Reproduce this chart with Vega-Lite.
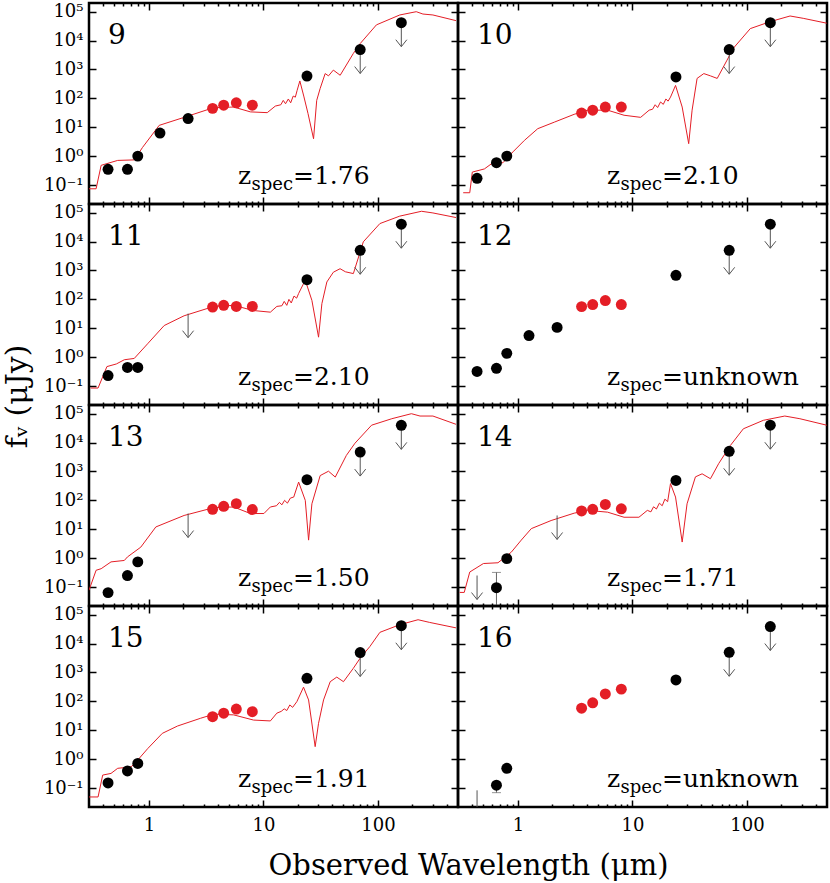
{
  "$schema": "https://vega.github.io/schema/vega-lite/v6.json",
  "background": "white",
  "padding": {"left": 0, "top": 1, "right": 2, "bottom": 0},
  "config": {
    "view": {"stroke": "black", "strokeWidth": 2.5},
    "axis": {"domain": false, "grid": false, "tickColor": "black", "tickWidth": 1.5, "labelColor": "black", "labelFont": "DejaVu Serif", "labelFontSize": 18, "titleFont": "DejaVu Serif", "titleColor": "black", "titleFontWeight": "normal"}
  },
  "data": {"values": [
    {"panel": 9, "kind": "label", "num": "9", "z": "=1.76"},
    {"panel": 10, "kind": "label", "num": "10", "z": "=2.10"},
    {"panel": 11, "kind": "label", "num": "11", "z": "=2.10"},
    {"panel": 12, "kind": "label", "num": "12", "z": "=unknown"},
    {"panel": 13, "kind": "label", "num": "13", "z": "=1.50"},
    {"panel": 14, "kind": "label", "num": "14", "z": "=1.71"},
    {"panel": 15, "kind": "label", "num": "15", "z": "=1.91"},
    {"panel": 16, "kind": "label", "num": "16", "z": "=unknown"},

    {"panel": 9, "kind": "det", "wl": 0.44, "flux": 0.35},
    {"panel": 9, "kind": "det", "wl": 0.65, "flux": 0.35},
    {"panel": 9, "kind": "det", "wl": 0.8, "flux": 1.0},
    {"panel": 9, "kind": "det", "wl": 1.25, "flux": 6.3},
    {"panel": 9, "kind": "det", "wl": 2.2, "flux": 20},
    {"panel": 9, "kind": "irac", "wl": 3.6, "flux": 45},
    {"panel": 9, "kind": "irac", "wl": 4.5, "flux": 58},
    {"panel": 9, "kind": "irac", "wl": 5.8, "flux": 70},
    {"panel": 9, "kind": "irac", "wl": 8.0, "flux": 58},
    {"panel": 9, "kind": "det", "wl": 24, "flux": 590},
    {"panel": 9, "kind": "ul", "wl": 70, "flux": 4900},
    {"panel": 9, "kind": "ul", "wl": 160, "flux": 41700},

    {"panel": 10, "kind": "det", "wl": 0.44, "flux": 0.17},
    {"panel": 10, "kind": "det", "wl": 0.65, "flux": 0.59},
    {"panel": 10, "kind": "det", "wl": 0.8, "flux": 1.0},
    {"panel": 10, "kind": "irac", "wl": 3.6, "flux": 31},
    {"panel": 10, "kind": "irac", "wl": 4.5, "flux": 39},
    {"panel": 10, "kind": "irac", "wl": 5.8, "flux": 50},
    {"panel": 10, "kind": "irac", "wl": 8.0, "flux": 50},
    {"panel": 10, "kind": "det", "wl": 24, "flux": 550},
    {"panel": 10, "kind": "ul", "wl": 70, "flux": 4900},
    {"panel": 10, "kind": "ul", "wl": 160, "flux": 41700},

    {"panel": 11, "kind": "det", "wl": 0.44, "flux": 0.23},
    {"panel": 11, "kind": "det", "wl": 0.65, "flux": 0.44},
    {"panel": 11, "kind": "det", "wl": 0.8, "flux": 0.44},
    {"panel": 11, "kind": "ulx", "wl": 2.2, "flux": 32},
    {"panel": 11, "kind": "irac", "wl": 3.6, "flux": 54},
    {"panel": 11, "kind": "irac", "wl": 4.5, "flux": 62},
    {"panel": 11, "kind": "irac", "wl": 5.8, "flux": 57},
    {"panel": 11, "kind": "irac", "wl": 8.0, "flux": 57},
    {"panel": 11, "kind": "det", "wl": 24, "flux": 480},
    {"panel": 11, "kind": "ul", "wl": 70, "flux": 5000},
    {"panel": 11, "kind": "ul", "wl": 160, "flux": 40000},

    {"panel": 12, "kind": "det", "wl": 0.44, "flux": 0.32},
    {"panel": 12, "kind": "det", "wl": 0.65, "flux": 0.41},
    {"panel": 12, "kind": "det", "wl": 0.8, "flux": 1.35},
    {"panel": 12, "kind": "det", "wl": 1.25, "flux": 5.6},
    {"panel": 12, "kind": "det", "wl": 2.2, "flux": 10.7},
    {"panel": 12, "kind": "irac", "wl": 3.6, "flux": 56},
    {"panel": 12, "kind": "irac", "wl": 4.5, "flux": 66},
    {"panel": 12, "kind": "irac", "wl": 5.8, "flux": 91},
    {"panel": 12, "kind": "irac", "wl": 8.0, "flux": 66},
    {"panel": 12, "kind": "det", "wl": 24, "flux": 680},
    {"panel": 12, "kind": "ul", "wl": 70, "flux": 5000},
    {"panel": 12, "kind": "ul", "wl": 160, "flux": 40000},

    {"panel": 13, "kind": "det", "wl": 0.44, "flux": 0.064},
    {"panel": 13, "kind": "det", "wl": 0.65, "flux": 0.25},
    {"panel": 13, "kind": "det", "wl": 0.8, "flux": 0.74},
    {"panel": 13, "kind": "ulx", "wl": 2.2, "flux": 35},
    {"panel": 13, "kind": "irac", "wl": 3.6, "flux": 49},
    {"panel": 13, "kind": "irac", "wl": 4.5, "flux": 62},
    {"panel": 13, "kind": "irac", "wl": 5.8, "flux": 77},
    {"panel": 13, "kind": "irac", "wl": 8.0, "flux": 48},
    {"panel": 13, "kind": "det", "wl": 24, "flux": 520},
    {"panel": 13, "kind": "ul", "wl": 70, "flux": 4700},
    {"panel": 13, "kind": "ul", "wl": 160, "flux": 39500},

    {"panel": 14, "kind": "ulx", "wl": 0.44, "flux": 0.25},
    {"panel": 14, "kind": "det", "wl": 0.65, "flux": 0.095, "lo": 0.001, "hi": 0.32},
    {"panel": 14, "kind": "det", "wl": 0.8, "flux": 0.96},
    {"panel": 14, "kind": "ulx", "wl": 2.2, "flux": 30},
    {"panel": 14, "kind": "irac", "wl": 3.6, "flux": 43},
    {"panel": 14, "kind": "irac", "wl": 4.5, "flux": 49},
    {"panel": 14, "kind": "irac", "wl": 5.8, "flux": 72},
    {"panel": 14, "kind": "irac", "wl": 8.0, "flux": 51},
    {"panel": 14, "kind": "det", "wl": 24, "flux": 490},
    {"panel": 14, "kind": "ul", "wl": 70, "flux": 5000},
    {"panel": 14, "kind": "ul", "wl": 160, "flux": 40000},

    {"panel": 15, "kind": "det", "wl": 0.44, "flux": 0.15},
    {"panel": 15, "kind": "det", "wl": 0.65, "flux": 0.39},
    {"panel": 15, "kind": "det", "wl": 0.8, "flux": 0.71},
    {"panel": 15, "kind": "irac", "wl": 3.6, "flux": 29.5},
    {"panel": 15, "kind": "irac", "wl": 4.5, "flux": 39},
    {"panel": 15, "kind": "irac", "wl": 5.8, "flux": 54},
    {"panel": 15, "kind": "irac", "wl": 8.0, "flux": 44},
    {"panel": 15, "kind": "det", "wl": 24, "flux": 630},
    {"panel": 15, "kind": "ul", "wl": 70, "flux": 4900},
    {"panel": 15, "kind": "ul", "wl": 160, "flux": 41500},

    {"panel": 16, "kind": "ulx", "wl": 0.44, "flux": 0.083},
    {"panel": 16, "kind": "det", "wl": 0.65, "flux": 0.125, "lo": 0.069, "hi": 0.18},
    {"panel": 16, "kind": "det", "wl": 0.8, "flux": 0.48},
    {"panel": 16, "kind": "irac", "wl": 3.6, "flux": 58},
    {"panel": 16, "kind": "irac", "wl": 4.5, "flux": 89},
    {"panel": 16, "kind": "irac", "wl": 5.8, "flux": 180},
    {"panel": 16, "kind": "irac", "wl": 8.0, "flux": 265},
    {"panel": 16, "kind": "det", "wl": 24, "flux": 550},
    {"panel": 16, "kind": "ul", "wl": 70, "flux": 5000},
    {"panel": 16, "kind": "ul", "wl": 160, "flux": 39000},

    {"panel": 9, "kind": "model", "wl": 0.30, "flux": 0.074},
    {"panel": 9, "kind": "model", "wl": 0.346, "flux": 0.074},
    {"panel": 9, "kind": "model", "wl": 0.383, "flux": 0.48},
    {"panel": 9, "kind": "model", "wl": 0.534, "flux": 0.71},
    {"panel": 9, "kind": "model", "wl": 0.745, "flux": 0.74},
    {"panel": 9, "kind": "model", "wl": 0.88, "flux": 2.0},
    {"panel": 9, "kind": "model", "wl": 1.23, "flux": 11.6},
    {"panel": 9, "kind": "model", "wl": 2.03, "flux": 22},
    {"panel": 9, "kind": "model", "wl": 3.7, "flux": 48},
    {"panel": 9, "kind": "model", "wl": 5.5, "flux": 50},
    {"panel": 9, "kind": "model", "wl": 7.7, "flux": 34},
    {"panel": 9, "kind": "model", "wl": 10.8, "flux": 32},
    {"panel": 9, "kind": "model", "wl": 12.7, "flux": 54},
    {"panel": 9, "kind": "model", "wl": 14.2, "flux": 60},
    {"panel": 9, "kind": "model", "wl": 14.9, "flux": 85},
    {"panel": 9, "kind": "model", "wl": 15.6, "flux": 65},
    {"panel": 9, "kind": "model", "wl": 16.5, "flux": 95},
    {"panel": 9, "kind": "model", "wl": 17.3, "flux": 70},
    {"panel": 9, "kind": "model", "wl": 18.2, "flux": 120},
    {"panel": 9, "kind": "model", "wl": 19.0, "flux": 110},
    {"panel": 9, "kind": "model", "wl": 19.7, "flux": 190},
    {"panel": 9, "kind": "model", "wl": 20.8, "flux": 400},
    {"panel": 9, "kind": "model", "wl": 22.5, "flux": 120},
    {"panel": 9, "kind": "model", "wl": 24.5, "flux": 30},
    {"panel": 9, "kind": "model", "wl": 27.4, "flux": 4.0},
    {"panel": 9, "kind": "model", "wl": 29.2, "flux": 85},
    {"panel": 9, "kind": "model", "wl": 31.3, "flux": 220},
    {"panel": 9, "kind": "model", "wl": 34.6, "flux": 720},
    {"panel": 9, "kind": "model", "wl": 37, "flux": 600},
    {"panel": 9, "kind": "model", "wl": 40.8, "flux": 950},
    {"panel": 9, "kind": "model", "wl": 46.8, "flux": 630},
    {"panel": 9, "kind": "model", "wl": 61, "flux": 3600},
    {"panel": 9, "kind": "model", "wl": 70, "flux": 7900},
    {"panel": 9, "kind": "model", "wl": 97, "flux": 35000},
    {"panel": 9, "kind": "model", "wl": 155, "flux": 77000},
    {"panel": 9, "kind": "model", "wl": 216, "flux": 100000},
    {"panel": 9, "kind": "model", "wl": 247, "flux": 83000},
    {"panel": 9, "kind": "model", "wl": 302, "flux": 77000},
    {"panel": 9, "kind": "model", "wl": 480, "flux": 49000},

    {"panel": 10, "kind": "model", "wl": 0.333, "flux": 0.054},
    {"panel": 10, "kind": "model", "wl": 0.38, "flux": 0.054},
    {"panel": 10, "kind": "model", "wl": 0.40, "flux": 0.28},
    {"panel": 10, "kind": "model", "wl": 0.51, "flux": 0.36},
    {"panel": 10, "kind": "model", "wl": 0.59, "flux": 0.55},
    {"panel": 10, "kind": "model", "wl": 0.74, "flux": 0.59},
    {"panel": 10, "kind": "model", "wl": 0.905, "flux": 1.4},
    {"panel": 10, "kind": "model", "wl": 1.14, "flux": 3.5},
    {"panel": 10, "kind": "model", "wl": 1.49, "flux": 8.9},
    {"panel": 10, "kind": "model", "wl": 2.08, "flux": 15},
    {"panel": 10, "kind": "model", "wl": 3.1, "flux": 28},
    {"panel": 10, "kind": "model", "wl": 4.06, "flux": 39},
    {"panel": 10, "kind": "model", "wl": 6.07, "flux": 39},
    {"panel": 10, "kind": "model", "wl": 8.45, "flux": 26},
    {"panel": 10, "kind": "model", "wl": 11.8, "flux": 22},
    {"panel": 10, "kind": "model", "wl": 14, "flux": 39},
    {"panel": 10, "kind": "model", "wl": 15, "flux": 42},
    {"panel": 10, "kind": "model", "wl": 15.8, "flux": 60},
    {"panel": 10, "kind": "model", "wl": 16.6, "flux": 48},
    {"panel": 10, "kind": "model", "wl": 17.6, "flux": 75},
    {"panel": 10, "kind": "model", "wl": 18.6, "flux": 62},
    {"panel": 10, "kind": "model", "wl": 19.6, "flux": 95},
    {"panel": 10, "kind": "model", "wl": 20.5, "flux": 80},
    {"panel": 10, "kind": "model", "wl": 21.5, "flux": 110},
    {"panel": 10, "kind": "model", "wl": 23.8, "flux": 280},
    {"panel": 10, "kind": "model", "wl": 27.2, "flux": 50},
    {"panel": 10, "kind": "model", "wl": 31, "flux": 2.7},
    {"panel": 10, "kind": "model", "wl": 33.2, "flux": 39},
    {"panel": 10, "kind": "model", "wl": 36.7, "flux": 490},
    {"panel": 10, "kind": "model", "wl": 42, "flux": 720},
    {"panel": 10, "kind": "model", "wl": 48, "flux": 600},
    {"panel": 10, "kind": "model", "wl": 55, "flux": 490},
    {"panel": 10, "kind": "model", "wl": 67, "flux": 2100},
    {"panel": 10, "kind": "model", "wl": 76, "flux": 5400},
    {"panel": 10, "kind": "model", "wl": 107, "flux": 26000},
    {"panel": 10, "kind": "model", "wl": 159, "flux": 45000},
    {"panel": 10, "kind": "model", "wl": 238, "flux": 71000},
    {"panel": 10, "kind": "model", "wl": 310, "flux": 59000},
    {"panel": 10, "kind": "model", "wl": 497, "flux": 40000},

    {"panel": 11, "kind": "model", "wl": 0.31, "flux": 0.085},
    {"panel": 11, "kind": "model", "wl": 0.36, "flux": 0.085},
    {"panel": 11, "kind": "model", "wl": 0.43, "flux": 0.47},
    {"panel": 11, "kind": "model", "wl": 0.52, "flux": 0.58},
    {"panel": 11, "kind": "model", "wl": 0.61, "flux": 0.81},
    {"panel": 11, "kind": "model", "wl": 0.745, "flux": 0.9},
    {"panel": 11, "kind": "model", "wl": 0.975, "flux": 2.9},
    {"panel": 11, "kind": "model", "wl": 1.36, "flux": 12.4},
    {"panel": 11, "kind": "model", "wl": 2.03, "flux": 27},
    {"panel": 11, "kind": "model", "wl": 3.7, "flux": 57},
    {"panel": 11, "kind": "model", "wl": 5.5, "flux": 62},
    {"panel": 11, "kind": "model", "wl": 8.2, "flux": 41},
    {"panel": 11, "kind": "model", "wl": 11.5, "flux": 36},
    {"panel": 11, "kind": "model", "wl": 13.1, "flux": 57},
    {"panel": 11, "kind": "model", "wl": 14.5, "flux": 60},
    {"panel": 11, "kind": "model", "wl": 15.2, "flux": 85},
    {"panel": 11, "kind": "model", "wl": 16, "flux": 62},
    {"panel": 11, "kind": "model", "wl": 16.7, "flux": 100},
    {"panel": 11, "kind": "model", "wl": 17.5, "flux": 75},
    {"panel": 11, "kind": "model", "wl": 18.5, "flux": 130},
    {"panel": 11, "kind": "model", "wl": 19.5, "flux": 110},
    {"panel": 11, "kind": "model", "wl": 20.3, "flux": 160},
    {"panel": 11, "kind": "model", "wl": 23.2, "flux": 460},
    {"panel": 11, "kind": "model", "wl": 26.5, "flux": 92},
    {"panel": 11, "kind": "model", "wl": 30.3, "flux": 4.9},
    {"panel": 11, "kind": "model", "wl": 32.4, "flux": 71},
    {"panel": 11, "kind": "model", "wl": 35.8, "flux": 400},
    {"panel": 11, "kind": "model", "wl": 40.8, "flux": 870},
    {"panel": 11, "kind": "model", "wl": 46.7, "flux": 1150},
    {"panel": 11, "kind": "model", "wl": 52, "flux": 900},
    {"panel": 11, "kind": "model", "wl": 61, "flux": 780},
    {"panel": 11, "kind": "model", "wl": 74.5, "flux": 9800},
    {"panel": 11, "kind": "model", "wl": 104, "flux": 42000},
    {"panel": 11, "kind": "model", "wl": 155, "flux": 76000},
    {"panel": 11, "kind": "model", "wl": 240, "flux": 112000},
    {"panel": 11, "kind": "model", "wl": 302, "flux": 98000},
    {"panel": 11, "kind": "model", "wl": 480, "flux": 68000},

    {"panel": 13, "kind": "model", "wl": 0.30, "flux": 0.077},
    {"panel": 13, "kind": "model", "wl": 0.346, "flux": 0.38},
    {"panel": 13, "kind": "model", "wl": 0.383, "flux": 0.43},
    {"panel": 13, "kind": "model", "wl": 0.467, "flux": 0.74},
    {"panel": 13, "kind": "model", "wl": 0.61, "flux": 0.83},
    {"panel": 13, "kind": "model", "wl": 0.65, "flux": 1.1},
    {"panel": 13, "kind": "model", "wl": 0.85, "flux": 2.4},
    {"panel": 13, "kind": "model", "wl": 1.15, "flux": 12},
    {"panel": 13, "kind": "model", "wl": 2.03, "flux": 30},
    {"panel": 13, "kind": "model", "wl": 3.7, "flux": 56},
    {"panel": 13, "kind": "model", "wl": 5.5, "flux": 59},
    {"panel": 13, "kind": "model", "wl": 7.7, "flux": 35},
    {"panel": 13, "kind": "model", "wl": 10.1, "flux": 35},
    {"panel": 13, "kind": "model", "wl": 11.5, "flux": 59},
    {"panel": 13, "kind": "model", "wl": 13, "flux": 65},
    {"panel": 13, "kind": "model", "wl": 13.8, "flux": 85},
    {"panel": 13, "kind": "model", "wl": 14.5, "flux": 70},
    {"panel": 13, "kind": "model", "wl": 15.3, "flux": 100},
    {"panel": 13, "kind": "model", "wl": 16.2, "flux": 80},
    {"panel": 13, "kind": "model", "wl": 17.2, "flux": 120},
    {"panel": 13, "kind": "model", "wl": 18.4, "flux": 130},
    {"panel": 13, "kind": "model", "wl": 20.3, "flux": 430},
    {"panel": 13, "kind": "model", "wl": 23.2, "flux": 100},
    {"panel": 13, "kind": "model", "wl": 24.8, "flux": 4.2},
    {"panel": 13, "kind": "model", "wl": 26.5, "flux": 76},
    {"panel": 13, "kind": "model", "wl": 31.3, "flux": 720},
    {"panel": 13, "kind": "model", "wl": 37, "flux": 1020},
    {"panel": 13, "kind": "model", "wl": 42.4, "flux": 640},
    {"panel": 13, "kind": "model", "wl": 53, "flux": 3600},
    {"panel": 13, "kind": "model", "wl": 63, "flux": 9500},
    {"panel": 13, "kind": "model", "wl": 88, "flux": 40000},
    {"panel": 13, "kind": "model", "wl": 132, "flux": 67000},
    {"panel": 13, "kind": "model", "wl": 196, "flux": 100000},
    {"panel": 13, "kind": "model", "wl": 233, "flux": 83000},
    {"panel": 13, "kind": "model", "wl": 302, "flux": 83000},
    {"panel": 13, "kind": "model", "wl": 480, "flux": 43000},

    {"panel": 14, "kind": "model", "wl": 0.31, "flux": 0.065},
    {"panel": 14, "kind": "model", "wl": 0.34, "flux": 0.065},
    {"panel": 14, "kind": "model", "wl": 0.38, "flux": 0.33},
    {"panel": 14, "kind": "model", "wl": 0.50, "flux": 0.65},
    {"panel": 14, "kind": "model", "wl": 0.67, "flux": 0.69},
    {"panel": 14, "kind": "model", "wl": 0.875, "flux": 1.6},
    {"panel": 14, "kind": "model", "wl": 1.07, "flux": 4.2},
    {"panel": 14, "kind": "model", "wl": 1.31, "flux": 10.5},
    {"panel": 14, "kind": "model", "wl": 1.95, "flux": 20},
    {"panel": 14, "kind": "model", "wl": 3.1, "flux": 36},
    {"panel": 14, "kind": "model", "wl": 4.06, "flux": 45},
    {"panel": 14, "kind": "model", "wl": 6.07, "flux": 39},
    {"panel": 14, "kind": "model", "wl": 8.45, "flux": 26},
    {"panel": 14, "kind": "model", "wl": 11.4, "flux": 26},
    {"panel": 14, "kind": "model", "wl": 13.5, "flux": 45},
    {"panel": 14, "kind": "model", "wl": 14.5, "flux": 40},
    {"panel": 14, "kind": "model", "wl": 15.3, "flux": 60},
    {"panel": 14, "kind": "model", "wl": 16.2, "flux": 50},
    {"panel": 14, "kind": "model", "wl": 17.2, "flux": 80},
    {"panel": 14, "kind": "model", "wl": 18.2, "flux": 65},
    {"panel": 14, "kind": "model", "wl": 19.2, "flux": 110},
    {"panel": 14, "kind": "model", "wl": 20.3, "flux": 90},
    {"panel": 14, "kind": "model", "wl": 21.5, "flux": 380},
    {"panel": 14, "kind": "model", "wl": 23.8, "flux": 130},
    {"panel": 14, "kind": "model", "wl": 27.2, "flux": 3.6},
    {"panel": 14, "kind": "model", "wl": 30, "flux": 76},
    {"panel": 14, "kind": "model", "wl": 35.5, "flux": 650},
    {"panel": 14, "kind": "model", "wl": 40.6, "flux": 830},
    {"panel": 14, "kind": "model", "wl": 48, "flux": 560},
    {"panel": 14, "kind": "model", "wl": 56.6, "flux": 1860},
    {"panel": 14, "kind": "model", "wl": 71.6, "flux": 7900},
    {"panel": 14, "kind": "model", "wl": 93, "flux": 30000},
    {"panel": 14, "kind": "model", "wl": 139, "flux": 59000},
    {"panel": 14, "kind": "model", "wl": 214, "flux": 83000},
    {"panel": 14, "kind": "model", "wl": 290, "flux": 67000},
    {"panel": 14, "kind": "model", "wl": 497, "flux": 40000},

    {"panel": 15, "kind": "model", "wl": 0.30, "flux": 0.049},
    {"panel": 15, "kind": "model", "wl": 0.36, "flux": 0.049},
    {"panel": 15, "kind": "model", "wl": 0.395, "flux": 0.28},
    {"panel": 15, "kind": "model", "wl": 0.467, "flux": 0.32},
    {"panel": 15, "kind": "model", "wl": 0.534, "flux": 0.48},
    {"panel": 15, "kind": "model", "wl": 0.70, "flux": 0.54},
    {"panel": 15, "kind": "model", "wl": 0.8, "flux": 0.93},
    {"panel": 15, "kind": "model", "wl": 0.975, "flux": 2.3},
    {"panel": 15, "kind": "model", "wl": 1.31, "flux": 7.8},
    {"panel": 15, "kind": "model", "wl": 1.78, "flux": 14},
    {"panel": 15, "kind": "model", "wl": 2.83, "flux": 26},
    {"panel": 15, "kind": "model", "wl": 3.7, "flux": 36},
    {"panel": 15, "kind": "model", "wl": 5.5, "flux": 34},
    {"panel": 15, "kind": "model", "wl": 8.2, "flux": 22.5},
    {"panel": 15, "kind": "model", "wl": 11.5, "flux": 21},
    {"panel": 15, "kind": "model", "wl": 13.1, "flux": 39},
    {"panel": 15, "kind": "model", "wl": 14.3, "flux": 45},
    {"panel": 15, "kind": "model", "wl": 15.2, "flux": 55},
    {"panel": 15, "kind": "model", "wl": 16, "flux": 48},
    {"panel": 15, "kind": "model", "wl": 17, "flux": 75},
    {"panel": 15, "kind": "model", "wl": 18, "flux": 62},
    {"panel": 15, "kind": "model", "wl": 19.6, "flux": 98},
    {"panel": 15, "kind": "model", "wl": 22.4, "flux": 310},
    {"panel": 15, "kind": "model", "wl": 24.8, "flux": 112},
    {"panel": 15, "kind": "model", "wl": 28.3, "flux": 2.7},
    {"panel": 15, "kind": "model", "wl": 30.3, "flux": 17.4},
    {"panel": 15, "kind": "model", "wl": 33.5, "flux": 112},
    {"panel": 15, "kind": "model", "wl": 38.3, "flux": 480},
    {"panel": 15, "kind": "model", "wl": 43.7, "flux": 690},
    {"panel": 15, "kind": "model", "wl": 50, "flux": 480},
    {"panel": 15, "kind": "model", "wl": 61, "flux": 1400},
    {"panel": 15, "kind": "model", "wl": 70, "flux": 3150},
    {"panel": 15, "kind": "model", "wl": 85, "flux": 7900},
    {"panel": 15, "kind": "model", "wl": 104, "flux": 24500},
    {"panel": 15, "kind": "model", "wl": 155, "flux": 45000},
    {"panel": 15, "kind": "model", "wl": 224, "flux": 67000},
    {"panel": 15, "kind": "model", "wl": 283, "flux": 54000},
    {"panel": 15, "kind": "model", "wl": 480, "flux": 35000}
  ]},
  "columns": 2,
  "spacing": 0,
  "bounds": "flush",
  "concat": [
    {
      "width": 369, "height": 201,
      "transform": [{"filter": "datum.panel == 9"}],
      "layer": [
        {"transform": [{"filter": "datum.kind == 'model'"}], "mark": {"type": "line", "color": "#e41e26", "strokeWidth": 1, "clip": true},
         "encoding": {
          "x": {"field": "wl", "type": "quantitative", "scale": {"type": "log", "domain": [0.3, 500], "nice": false}, "axis": {"orient": "bottom", "values": [0.4,0.5,0.6,0.7,0.8,0.9,1,2,3,4,5,6,7,8,9,10,20,30,40,50,60,70,80,90,100,200,300,400], "labels": false, "tickSize": {"condition": {"test": "datum.value==1||datum.value==10||datum.value==100", "value": -7}, "value": -3}, "title": null}},
          "y": {"field": "flux", "type": "quantitative", "scale": {"type": "log", "domain": [0.022, 200000], "nice": false}, "axis": {"orient": "left", "values": [0.1,1,10,100,1000,10000,100000], "labels": true, "labelExpr": "'10' + ['⁻¹','⁰','¹','²','³','⁴','⁵'][round(log(datum.value)/LN10)+1]", "labelBaseline": "middle", "labelPadding": 13, "tickSize": -7, "title": null}}
         }},
        {"transform": [{"filter": "datum.kind == 'ul' || datum.kind == 'ulx'"}], "mark": {"type": "point", "shape": "M0,0L0,2M-0.46,1.42L0,2L0.46,1.42", "size": 576, "filled": false, "stroke": "#555555", "strokeWidth": 1, "opacity": 1, "clip": true},
         "encoding": {"x": {"field": "wl", "type": "quantitative", "scale": {"type": "log", "domain": [0.3, 500], "nice": false}, "axis": null}, "y": {"field": "flux", "type": "quantitative", "scale": {"type": "log", "domain": [0.022, 200000], "nice": false}, "axis": null}}},
        {"transform": [{"filter": "datum.kind == 'det' || datum.kind == 'ul'"}], "mark": {"type": "circle", "color": "black", "size": 120, "opacity": 1},
         "encoding": {"x": {"field": "wl", "type": "quantitative", "scale": {"type": "log", "domain": [0.3, 500], "nice": false}, "axis": null}, "y": {"field": "flux", "type": "quantitative", "scale": {"type": "log", "domain": [0.022, 200000], "nice": false}, "axis": null}}},
        {"transform": [{"filter": "datum.kind == 'irac'"}], "mark": {"type": "circle", "color": "#e41e26", "size": 120, "opacity": 1},
         "encoding": {"x": {"field": "wl", "type": "quantitative", "scale": {"type": "log", "domain": [0.3, 500], "nice": false}, "axis": null}, "y": {"field": "flux", "type": "quantitative", "scale": {"type": "log", "domain": [0.022, 200000], "nice": false}, "axis": null}}},
        {"transform": [{"filter": "datum.kind == 'label'"}], "mark": {"type": "text", "align": "left", "baseline": "alphabetic", "fontSize": 28, "color": "black", "font": "DejaVu Serif"},
         "encoding": {"text": {"field": "num"}, "x": {"datum": 0.44, "type": "quantitative", "scale": {"type": "log", "domain": [0.3, 500], "nice": false}, "axis": null}, "y": {"datum": 7600, "type": "quantitative", "scale": {"type": "log", "domain": [0.022, 200000], "nice": false}, "axis": null}}},
        {"transform": [{"filter": "datum.kind == 'label'"}], "mark": {"type": "text", "text": "z", "align": "left", "baseline": "alphabetic", "fontSize": 25, "color": "black", "font": "DejaVu Serif"},
         "encoding": {"x": {"datum": 6.0, "type": "quantitative", "scale": {"type": "log", "domain": [0.3, 500], "nice": false}, "axis": null}, "y": {"datum": 0.105, "type": "quantitative", "scale": {"type": "log", "domain": [0.022, 200000], "nice": false}, "axis": null}}},
        {"transform": [{"filter": "datum.kind == 'label'"}], "mark": {"type": "text", "text": "spec", "align": "left", "baseline": "alphabetic", "fontSize": 18, "dx": 13.5, "dy": 6, "color": "black", "font": "DejaVu Serif"},
         "encoding": {"x": {"datum": 6.0, "type": "quantitative", "scale": {"type": "log", "domain": [0.3, 500], "nice": false}, "axis": null}, "y": {"datum": 0.105, "type": "quantitative", "scale": {"type": "log", "domain": [0.022, 200000], "nice": false}, "axis": null}}},
        {"transform": [{"filter": "datum.kind == 'label'"}], "mark": {"type": "text", "align": "left", "baseline": "alphabetic", "fontSize": 25, "dx": 55, "color": "black", "font": "DejaVu Serif"},
         "encoding": {"text": {"field": "z"}, "x": {"datum": 6.0, "type": "quantitative", "scale": {"type": "log", "domain": [0.3, 500], "nice": false}, "axis": null}, "y": {"datum": 0.105, "type": "quantitative", "scale": {"type": "log", "domain": [0.022, 200000], "nice": false}, "axis": null}}},
        {"transform": [{"filter": "datum.kind == 'det'"}], "mark": {"type": "point", "opacity": 0},
         "encoding": {
          "x": {"field": "wl", "type": "quantitative", "scale": {"type": "log", "domain": [0.3, 500], "nice": false}, "axis": {"orient": "top", "values": [0.4,0.5,0.6,0.7,0.8,0.9,1,2,3,4,5,6,7,8,9,10,20,30,40,50,60,70,80,90,100,200,300,400], "labels": false, "tickSize": {"condition": {"test": "datum.value==1||datum.value==10||datum.value==100", "value": -7}, "value": -3}, "title": null}},
          "y": {"field": "flux", "type": "quantitative", "scale": {"type": "log", "domain": [0.022, 200000], "nice": false}, "axis": {"orient": "right", "values": [0.1,1,10,100,1000,10000,100000], "labels": false, "tickSize": -7, "title": null}}
         }}
      ]
    },
    {
      "width": 369, "height": 201,
      "transform": [{"filter": "datum.panel == 10"}],
      "layer": [
        {"transform": [{"filter": "datum.kind == 'model'"}], "mark": {"type": "line", "color": "#e41e26", "strokeWidth": 1, "clip": true},
         "encoding": {
          "x": {"field": "wl", "type": "quantitative", "scale": {"type": "log", "domain": [0.3, 500], "nice": false}, "axis": {"orient": "bottom", "values": [0.4,0.5,0.6,0.7,0.8,0.9,1,2,3,4,5,6,7,8,9,10,20,30,40,50,60,70,80,90,100,200,300,400], "labels": false, "tickSize": {"condition": {"test": "datum.value==1||datum.value==10||datum.value==100", "value": -7}, "value": -3}, "title": null}},
          "y": {"field": "flux", "type": "quantitative", "scale": {"type": "log", "domain": [0.022, 200000], "nice": false}, "axis": {"orient": "left", "values": [0.1,1,10,100,1000,10000,100000], "labels": false, "tickSize": -7, "title": null}}
         }},
        {"transform": [{"filter": "datum.kind == 'ul' || datum.kind == 'ulx'"}], "mark": {"type": "point", "shape": "M0,0L0,2M-0.46,1.42L0,2L0.46,1.42", "size": 576, "filled": false, "stroke": "#555555", "strokeWidth": 1, "opacity": 1, "clip": true},
         "encoding": {"x": {"field": "wl", "type": "quantitative", "scale": {"type": "log", "domain": [0.3, 500], "nice": false}, "axis": null}, "y": {"field": "flux", "type": "quantitative", "scale": {"type": "log", "domain": [0.022, 200000], "nice": false}, "axis": null}}},
        {"transform": [{"filter": "datum.kind == 'det' || datum.kind == 'ul'"}], "mark": {"type": "circle", "color": "black", "size": 120, "opacity": 1},
         "encoding": {"x": {"field": "wl", "type": "quantitative", "scale": {"type": "log", "domain": [0.3, 500], "nice": false}, "axis": null}, "y": {"field": "flux", "type": "quantitative", "scale": {"type": "log", "domain": [0.022, 200000], "nice": false}, "axis": null}}},
        {"transform": [{"filter": "datum.kind == 'irac'"}], "mark": {"type": "circle", "color": "#e41e26", "size": 120, "opacity": 1},
         "encoding": {"x": {"field": "wl", "type": "quantitative", "scale": {"type": "log", "domain": [0.3, 500], "nice": false}, "axis": null}, "y": {"field": "flux", "type": "quantitative", "scale": {"type": "log", "domain": [0.022, 200000], "nice": false}, "axis": null}}},
        {"transform": [{"filter": "datum.kind == 'label'"}], "mark": {"type": "text", "align": "left", "baseline": "alphabetic", "fontSize": 28, "color": "black", "font": "DejaVu Serif"},
         "encoding": {"text": {"field": "num"}, "x": {"datum": 0.44, "type": "quantitative", "scale": {"type": "log", "domain": [0.3, 500], "nice": false}, "axis": null}, "y": {"datum": 7600, "type": "quantitative", "scale": {"type": "log", "domain": [0.022, 200000], "nice": false}, "axis": null}}},
        {"transform": [{"filter": "datum.kind == 'label'"}], "mark": {"type": "text", "text": "z", "align": "left", "baseline": "alphabetic", "fontSize": 25, "color": "black", "font": "DejaVu Serif"},
         "encoding": {"x": {"datum": 6.0, "type": "quantitative", "scale": {"type": "log", "domain": [0.3, 500], "nice": false}, "axis": null}, "y": {"datum": 0.105, "type": "quantitative", "scale": {"type": "log", "domain": [0.022, 200000], "nice": false}, "axis": null}}},
        {"transform": [{"filter": "datum.kind == 'label'"}], "mark": {"type": "text", "text": "spec", "align": "left", "baseline": "alphabetic", "fontSize": 18, "dx": 13.5, "dy": 6, "color": "black", "font": "DejaVu Serif"},
         "encoding": {"x": {"datum": 6.0, "type": "quantitative", "scale": {"type": "log", "domain": [0.3, 500], "nice": false}, "axis": null}, "y": {"datum": 0.105, "type": "quantitative", "scale": {"type": "log", "domain": [0.022, 200000], "nice": false}, "axis": null}}},
        {"transform": [{"filter": "datum.kind == 'label'"}], "mark": {"type": "text", "align": "left", "baseline": "alphabetic", "fontSize": 25, "dx": 55, "color": "black", "font": "DejaVu Serif"},
         "encoding": {"text": {"field": "z"}, "x": {"datum": 6.0, "type": "quantitative", "scale": {"type": "log", "domain": [0.3, 500], "nice": false}, "axis": null}, "y": {"datum": 0.105, "type": "quantitative", "scale": {"type": "log", "domain": [0.022, 200000], "nice": false}, "axis": null}}},
        {"transform": [{"filter": "datum.kind == 'det'"}], "mark": {"type": "point", "opacity": 0},
         "encoding": {
          "x": {"field": "wl", "type": "quantitative", "scale": {"type": "log", "domain": [0.3, 500], "nice": false}, "axis": {"orient": "top", "values": [0.4,0.5,0.6,0.7,0.8,0.9,1,2,3,4,5,6,7,8,9,10,20,30,40,50,60,70,80,90,100,200,300,400], "labels": false, "tickSize": {"condition": {"test": "datum.value==1||datum.value==10||datum.value==100", "value": -7}, "value": -3}, "title": null}},
          "y": {"field": "flux", "type": "quantitative", "scale": {"type": "log", "domain": [0.022, 200000], "nice": false}, "axis": {"orient": "right", "values": [0.1,1,10,100,1000,10000,100000], "labels": false, "tickSize": -7, "title": null}}
         }}
      ]
    },
    {
      "width": 369, "height": 201,
      "transform": [{"filter": "datum.panel == 11"}],
      "layer": [
        {"transform": [{"filter": "datum.kind == 'model'"}], "mark": {"type": "line", "color": "#e41e26", "strokeWidth": 1, "clip": true},
         "encoding": {
          "x": {"field": "wl", "type": "quantitative", "scale": {"type": "log", "domain": [0.3, 500], "nice": false}, "axis": {"orient": "bottom", "values": [0.4,0.5,0.6,0.7,0.8,0.9,1,2,3,4,5,6,7,8,9,10,20,30,40,50,60,70,80,90,100,200,300,400], "labels": false, "tickSize": {"condition": {"test": "datum.value==1||datum.value==10||datum.value==100", "value": -7}, "value": -3}, "title": null}},
          "y": {"field": "flux", "type": "quantitative", "scale": {"type": "log", "domain": [0.022, 200000], "nice": false}, "axis": {"orient": "left", "values": [0.1,1,10,100,1000,10000,100000], "labels": true, "labelExpr": "'10' + ['⁻¹','⁰','¹','²','³','⁴','⁵'][round(log(datum.value)/LN10)+1]", "labelBaseline": "middle", "labelPadding": 13, "tickSize": -7, "title": "fᵥ (μJy)", "titleFontSize": 30, "titleX": -63, "titleY": 192, "titleAngle": -90, "titleAlign": "center", "titleBaseline": "alphabetic"}}
         }},
        {"transform": [{"filter": "datum.kind == 'ul' || datum.kind == 'ulx'"}], "mark": {"type": "point", "shape": "M0,0L0,2M-0.46,1.42L0,2L0.46,1.42", "size": 576, "filled": false, "stroke": "#555555", "strokeWidth": 1, "opacity": 1, "clip": true},
         "encoding": {"x": {"field": "wl", "type": "quantitative", "scale": {"type": "log", "domain": [0.3, 500], "nice": false}, "axis": null}, "y": {"field": "flux", "type": "quantitative", "scale": {"type": "log", "domain": [0.022, 200000], "nice": false}, "axis": null}}},
        {"transform": [{"filter": "datum.kind == 'det' || datum.kind == 'ul'"}], "mark": {"type": "circle", "color": "black", "size": 120, "opacity": 1},
         "encoding": {"x": {"field": "wl", "type": "quantitative", "scale": {"type": "log", "domain": [0.3, 500], "nice": false}, "axis": null}, "y": {"field": "flux", "type": "quantitative", "scale": {"type": "log", "domain": [0.022, 200000], "nice": false}, "axis": null}}},
        {"transform": [{"filter": "datum.kind == 'irac'"}], "mark": {"type": "circle", "color": "#e41e26", "size": 120, "opacity": 1},
         "encoding": {"x": {"field": "wl", "type": "quantitative", "scale": {"type": "log", "domain": [0.3, 500], "nice": false}, "axis": null}, "y": {"field": "flux", "type": "quantitative", "scale": {"type": "log", "domain": [0.022, 200000], "nice": false}, "axis": null}}},
        {"transform": [{"filter": "datum.kind == 'label'"}], "mark": {"type": "text", "align": "left", "baseline": "alphabetic", "fontSize": 28, "color": "black", "font": "DejaVu Serif"},
         "encoding": {"text": {"field": "num"}, "x": {"datum": 0.44, "type": "quantitative", "scale": {"type": "log", "domain": [0.3, 500], "nice": false}, "axis": null}, "y": {"datum": 7600, "type": "quantitative", "scale": {"type": "log", "domain": [0.022, 200000], "nice": false}, "axis": null}}},
        {"transform": [{"filter": "datum.kind == 'label'"}], "mark": {"type": "text", "text": "z", "align": "left", "baseline": "alphabetic", "fontSize": 25, "color": "black", "font": "DejaVu Serif"},
         "encoding": {"x": {"datum": 6.0, "type": "quantitative", "scale": {"type": "log", "domain": [0.3, 500], "nice": false}, "axis": null}, "y": {"datum": 0.105, "type": "quantitative", "scale": {"type": "log", "domain": [0.022, 200000], "nice": false}, "axis": null}}},
        {"transform": [{"filter": "datum.kind == 'label'"}], "mark": {"type": "text", "text": "spec", "align": "left", "baseline": "alphabetic", "fontSize": 18, "dx": 13.5, "dy": 6, "color": "black", "font": "DejaVu Serif"},
         "encoding": {"x": {"datum": 6.0, "type": "quantitative", "scale": {"type": "log", "domain": [0.3, 500], "nice": false}, "axis": null}, "y": {"datum": 0.105, "type": "quantitative", "scale": {"type": "log", "domain": [0.022, 200000], "nice": false}, "axis": null}}},
        {"transform": [{"filter": "datum.kind == 'label'"}], "mark": {"type": "text", "align": "left", "baseline": "alphabetic", "fontSize": 25, "dx": 55, "color": "black", "font": "DejaVu Serif"},
         "encoding": {"text": {"field": "z"}, "x": {"datum": 6.0, "type": "quantitative", "scale": {"type": "log", "domain": [0.3, 500], "nice": false}, "axis": null}, "y": {"datum": 0.105, "type": "quantitative", "scale": {"type": "log", "domain": [0.022, 200000], "nice": false}, "axis": null}}},
        {"transform": [{"filter": "datum.kind == 'det'"}], "mark": {"type": "point", "opacity": 0},
         "encoding": {
          "x": {"field": "wl", "type": "quantitative", "scale": {"type": "log", "domain": [0.3, 500], "nice": false}, "axis": {"orient": "top", "values": [0.4,0.5,0.6,0.7,0.8,0.9,1,2,3,4,5,6,7,8,9,10,20,30,40,50,60,70,80,90,100,200,300,400], "labels": false, "tickSize": {"condition": {"test": "datum.value==1||datum.value==10||datum.value==100", "value": -7}, "value": -3}, "title": null}},
          "y": {"field": "flux", "type": "quantitative", "scale": {"type": "log", "domain": [0.022, 200000], "nice": false}, "axis": {"orient": "right", "values": [0.1,1,10,100,1000,10000,100000], "labels": false, "tickSize": -7, "title": null}}
         }}
      ]
    },
    {
      "width": 369, "height": 201,
      "transform": [{"filter": "datum.panel == 12"}],
      "layer": [
        {"transform": [{"filter": "datum.kind == 'model'"}], "mark": {"type": "line", "color": "#e41e26", "strokeWidth": 1, "clip": true},
         "encoding": {
          "x": {"field": "wl", "type": "quantitative", "scale": {"type": "log", "domain": [0.3, 500], "nice": false}, "axis": {"orient": "bottom", "values": [0.4,0.5,0.6,0.7,0.8,0.9,1,2,3,4,5,6,7,8,9,10,20,30,40,50,60,70,80,90,100,200,300,400], "labels": false, "tickSize": {"condition": {"test": "datum.value==1||datum.value==10||datum.value==100", "value": -7}, "value": -3}, "title": null}},
          "y": {"field": "flux", "type": "quantitative", "scale": {"type": "log", "domain": [0.022, 200000], "nice": false}, "axis": {"orient": "left", "values": [0.1,1,10,100,1000,10000,100000], "labels": false, "tickSize": -7, "title": null}}
         }},
        {"transform": [{"filter": "datum.kind == 'ul' || datum.kind == 'ulx'"}], "mark": {"type": "point", "shape": "M0,0L0,2M-0.46,1.42L0,2L0.46,1.42", "size": 576, "filled": false, "stroke": "#555555", "strokeWidth": 1, "opacity": 1, "clip": true},
         "encoding": {"x": {"field": "wl", "type": "quantitative", "scale": {"type": "log", "domain": [0.3, 500], "nice": false}, "axis": null}, "y": {"field": "flux", "type": "quantitative", "scale": {"type": "log", "domain": [0.022, 200000], "nice": false}, "axis": null}}},
        {"transform": [{"filter": "datum.kind == 'det' || datum.kind == 'ul'"}], "mark": {"type": "circle", "color": "black", "size": 120, "opacity": 1},
         "encoding": {"x": {"field": "wl", "type": "quantitative", "scale": {"type": "log", "domain": [0.3, 500], "nice": false}, "axis": null}, "y": {"field": "flux", "type": "quantitative", "scale": {"type": "log", "domain": [0.022, 200000], "nice": false}, "axis": null}}},
        {"transform": [{"filter": "datum.kind == 'irac'"}], "mark": {"type": "circle", "color": "#e41e26", "size": 120, "opacity": 1},
         "encoding": {"x": {"field": "wl", "type": "quantitative", "scale": {"type": "log", "domain": [0.3, 500], "nice": false}, "axis": null}, "y": {"field": "flux", "type": "quantitative", "scale": {"type": "log", "domain": [0.022, 200000], "nice": false}, "axis": null}}},
        {"transform": [{"filter": "datum.kind == 'label'"}], "mark": {"type": "text", "align": "left", "baseline": "alphabetic", "fontSize": 28, "color": "black", "font": "DejaVu Serif"},
         "encoding": {"text": {"field": "num"}, "x": {"datum": 0.44, "type": "quantitative", "scale": {"type": "log", "domain": [0.3, 500], "nice": false}, "axis": null}, "y": {"datum": 7600, "type": "quantitative", "scale": {"type": "log", "domain": [0.022, 200000], "nice": false}, "axis": null}}},
        {"transform": [{"filter": "datum.kind == 'label'"}], "mark": {"type": "text", "text": "z", "align": "left", "baseline": "alphabetic", "fontSize": 25, "color": "black", "font": "DejaVu Serif"},
         "encoding": {"x": {"datum": 6.0, "type": "quantitative", "scale": {"type": "log", "domain": [0.3, 500], "nice": false}, "axis": null}, "y": {"datum": 0.105, "type": "quantitative", "scale": {"type": "log", "domain": [0.022, 200000], "nice": false}, "axis": null}}},
        {"transform": [{"filter": "datum.kind == 'label'"}], "mark": {"type": "text", "text": "spec", "align": "left", "baseline": "alphabetic", "fontSize": 18, "dx": 13.5, "dy": 6, "color": "black", "font": "DejaVu Serif"},
         "encoding": {"x": {"datum": 6.0, "type": "quantitative", "scale": {"type": "log", "domain": [0.3, 500], "nice": false}, "axis": null}, "y": {"datum": 0.105, "type": "quantitative", "scale": {"type": "log", "domain": [0.022, 200000], "nice": false}, "axis": null}}},
        {"transform": [{"filter": "datum.kind == 'label'"}], "mark": {"type": "text", "align": "left", "baseline": "alphabetic", "fontSize": 25, "dx": 55, "color": "black", "font": "DejaVu Serif"},
         "encoding": {"text": {"field": "z"}, "x": {"datum": 6.0, "type": "quantitative", "scale": {"type": "log", "domain": [0.3, 500], "nice": false}, "axis": null}, "y": {"datum": 0.105, "type": "quantitative", "scale": {"type": "log", "domain": [0.022, 200000], "nice": false}, "axis": null}}},
        {"transform": [{"filter": "datum.kind == 'det'"}], "mark": {"type": "point", "opacity": 0},
         "encoding": {
          "x": {"field": "wl", "type": "quantitative", "scale": {"type": "log", "domain": [0.3, 500], "nice": false}, "axis": {"orient": "top", "values": [0.4,0.5,0.6,0.7,0.8,0.9,1,2,3,4,5,6,7,8,9,10,20,30,40,50,60,70,80,90,100,200,300,400], "labels": false, "tickSize": {"condition": {"test": "datum.value==1||datum.value==10||datum.value==100", "value": -7}, "value": -3}, "title": null}},
          "y": {"field": "flux", "type": "quantitative", "scale": {"type": "log", "domain": [0.022, 200000], "nice": false}, "axis": {"orient": "right", "values": [0.1,1,10,100,1000,10000,100000], "labels": false, "tickSize": -7, "title": null}}
         }}
      ]
    },
    {
      "width": 369, "height": 201,
      "transform": [{"filter": "datum.panel == 13"}],
      "layer": [
        {"transform": [{"filter": "datum.kind == 'model'"}], "mark": {"type": "line", "color": "#e41e26", "strokeWidth": 1, "clip": true},
         "encoding": {
          "x": {"field": "wl", "type": "quantitative", "scale": {"type": "log", "domain": [0.3, 500], "nice": false}, "axis": {"orient": "bottom", "values": [0.4,0.5,0.6,0.7,0.8,0.9,1,2,3,4,5,6,7,8,9,10,20,30,40,50,60,70,80,90,100,200,300,400], "labels": false, "tickSize": {"condition": {"test": "datum.value==1||datum.value==10||datum.value==100", "value": -7}, "value": -3}, "title": null}},
          "y": {"field": "flux", "type": "quantitative", "scale": {"type": "log", "domain": [0.022, 200000], "nice": false}, "axis": {"orient": "left", "values": [0.1,1,10,100,1000,10000,100000], "labels": true, "labelExpr": "'10' + ['⁻¹','⁰','¹','²','³','⁴','⁵'][round(log(datum.value)/LN10)+1]", "labelBaseline": "middle", "labelPadding": 13, "tickSize": -7, "title": null}}
         }},
        {"transform": [{"filter": "datum.kind == 'ul' || datum.kind == 'ulx'"}], "mark": {"type": "point", "shape": "M0,0L0,2M-0.46,1.42L0,2L0.46,1.42", "size": 576, "filled": false, "stroke": "#555555", "strokeWidth": 1, "opacity": 1, "clip": true},
         "encoding": {"x": {"field": "wl", "type": "quantitative", "scale": {"type": "log", "domain": [0.3, 500], "nice": false}, "axis": null}, "y": {"field": "flux", "type": "quantitative", "scale": {"type": "log", "domain": [0.022, 200000], "nice": false}, "axis": null}}},
        {"transform": [{"filter": "datum.kind == 'det' || datum.kind == 'ul'"}], "mark": {"type": "circle", "color": "black", "size": 120, "opacity": 1},
         "encoding": {"x": {"field": "wl", "type": "quantitative", "scale": {"type": "log", "domain": [0.3, 500], "nice": false}, "axis": null}, "y": {"field": "flux", "type": "quantitative", "scale": {"type": "log", "domain": [0.022, 200000], "nice": false}, "axis": null}}},
        {"transform": [{"filter": "datum.kind == 'irac'"}], "mark": {"type": "circle", "color": "#e41e26", "size": 120, "opacity": 1},
         "encoding": {"x": {"field": "wl", "type": "quantitative", "scale": {"type": "log", "domain": [0.3, 500], "nice": false}, "axis": null}, "y": {"field": "flux", "type": "quantitative", "scale": {"type": "log", "domain": [0.022, 200000], "nice": false}, "axis": null}}},
        {"transform": [{"filter": "datum.kind == 'label'"}], "mark": {"type": "text", "align": "left", "baseline": "alphabetic", "fontSize": 28, "color": "black", "font": "DejaVu Serif"},
         "encoding": {"text": {"field": "num"}, "x": {"datum": 0.44, "type": "quantitative", "scale": {"type": "log", "domain": [0.3, 500], "nice": false}, "axis": null}, "y": {"datum": 7600, "type": "quantitative", "scale": {"type": "log", "domain": [0.022, 200000], "nice": false}, "axis": null}}},
        {"transform": [{"filter": "datum.kind == 'label'"}], "mark": {"type": "text", "text": "z", "align": "left", "baseline": "alphabetic", "fontSize": 25, "color": "black", "font": "DejaVu Serif"},
         "encoding": {"x": {"datum": 6.0, "type": "quantitative", "scale": {"type": "log", "domain": [0.3, 500], "nice": false}, "axis": null}, "y": {"datum": 0.105, "type": "quantitative", "scale": {"type": "log", "domain": [0.022, 200000], "nice": false}, "axis": null}}},
        {"transform": [{"filter": "datum.kind == 'label'"}], "mark": {"type": "text", "text": "spec", "align": "left", "baseline": "alphabetic", "fontSize": 18, "dx": 13.5, "dy": 6, "color": "black", "font": "DejaVu Serif"},
         "encoding": {"x": {"datum": 6.0, "type": "quantitative", "scale": {"type": "log", "domain": [0.3, 500], "nice": false}, "axis": null}, "y": {"datum": 0.105, "type": "quantitative", "scale": {"type": "log", "domain": [0.022, 200000], "nice": false}, "axis": null}}},
        {"transform": [{"filter": "datum.kind == 'label'"}], "mark": {"type": "text", "align": "left", "baseline": "alphabetic", "fontSize": 25, "dx": 55, "color": "black", "font": "DejaVu Serif"},
         "encoding": {"text": {"field": "z"}, "x": {"datum": 6.0, "type": "quantitative", "scale": {"type": "log", "domain": [0.3, 500], "nice": false}, "axis": null}, "y": {"datum": 0.105, "type": "quantitative", "scale": {"type": "log", "domain": [0.022, 200000], "nice": false}, "axis": null}}},
        {"transform": [{"filter": "datum.kind == 'det'"}], "mark": {"type": "point", "opacity": 0},
         "encoding": {
          "x": {"field": "wl", "type": "quantitative", "scale": {"type": "log", "domain": [0.3, 500], "nice": false}, "axis": {"orient": "top", "values": [0.4,0.5,0.6,0.7,0.8,0.9,1,2,3,4,5,6,7,8,9,10,20,30,40,50,60,70,80,90,100,200,300,400], "labels": false, "tickSize": {"condition": {"test": "datum.value==1||datum.value==10||datum.value==100", "value": -7}, "value": -3}, "title": null}},
          "y": {"field": "flux", "type": "quantitative", "scale": {"type": "log", "domain": [0.022, 200000], "nice": false}, "axis": {"orient": "right", "values": [0.1,1,10,100,1000,10000,100000], "labels": false, "tickSize": -7, "title": null}}
         }}
      ]
    },
    {
      "width": 369, "height": 201,
      "transform": [{"filter": "datum.panel == 14"}],
      "layer": [
        {"transform": [{"filter": "datum.kind == 'model'"}], "mark": {"type": "line", "color": "#e41e26", "strokeWidth": 1, "clip": true},
         "encoding": {
          "x": {"field": "wl", "type": "quantitative", "scale": {"type": "log", "domain": [0.3, 500], "nice": false}, "axis": {"orient": "bottom", "values": [0.4,0.5,0.6,0.7,0.8,0.9,1,2,3,4,5,6,7,8,9,10,20,30,40,50,60,70,80,90,100,200,300,400], "labels": false, "tickSize": {"condition": {"test": "datum.value==1||datum.value==10||datum.value==100", "value": -7}, "value": -3}, "title": null}},
          "y": {"field": "flux", "type": "quantitative", "scale": {"type": "log", "domain": [0.022, 200000], "nice": false}, "axis": {"orient": "left", "values": [0.1,1,10,100,1000,10000,100000], "labels": false, "tickSize": -7, "title": null}}
         }},
        {"transform": [{"filter": "datum.kind == 'ul' || datum.kind == 'ulx'"}], "mark": {"type": "point", "shape": "M0,0L0,2M-0.46,1.42L0,2L0.46,1.42", "size": 576, "filled": false, "stroke": "#555555", "strokeWidth": 1, "opacity": 1, "clip": true},
         "encoding": {"x": {"field": "wl", "type": "quantitative", "scale": {"type": "log", "domain": [0.3, 500], "nice": false}, "axis": null}, "y": {"field": "flux", "type": "quantitative", "scale": {"type": "log", "domain": [0.022, 200000], "nice": false}, "axis": null}}},
        {"transform": [{"filter": "isValid(datum.hi)"}], "mark": {"type": "rule", "color": "#666666", "strokeWidth": 1, "clip": true},
         "encoding": {"x": {"field": "wl", "type": "quantitative", "scale": {"type": "log", "domain": [0.3, 500], "nice": false}, "axis": null}, "y": {"field": "lo", "type": "quantitative", "scale": {"type": "log", "domain": [0.022, 200000], "nice": false}, "axis": null}, "y2": {"field": "hi"}}},
        {"transform": [{"filter": "isValid(datum.hi)"}], "mark": {"type": "tick", "orient": "horizontal", "color": "#666666", "size": 9, "thickness": 1, "clip": true},
         "encoding": {"x": {"field": "wl", "type": "quantitative", "scale": {"type": "log", "domain": [0.3, 500], "nice": false}, "axis": null}, "y": {"field": "hi", "type": "quantitative", "scale": {"type": "log", "domain": [0.022, 200000], "nice": false}, "axis": null}}},
        {"transform": [{"filter": "datum.kind == 'det' || datum.kind == 'ul'"}], "mark": {"type": "circle", "color": "black", "size": 120, "opacity": 1},
         "encoding": {"x": {"field": "wl", "type": "quantitative", "scale": {"type": "log", "domain": [0.3, 500], "nice": false}, "axis": null}, "y": {"field": "flux", "type": "quantitative", "scale": {"type": "log", "domain": [0.022, 200000], "nice": false}, "axis": null}}},
        {"transform": [{"filter": "datum.kind == 'irac'"}], "mark": {"type": "circle", "color": "#e41e26", "size": 120, "opacity": 1},
         "encoding": {"x": {"field": "wl", "type": "quantitative", "scale": {"type": "log", "domain": [0.3, 500], "nice": false}, "axis": null}, "y": {"field": "flux", "type": "quantitative", "scale": {"type": "log", "domain": [0.022, 200000], "nice": false}, "axis": null}}},
        {"transform": [{"filter": "datum.kind == 'label'"}], "mark": {"type": "text", "align": "left", "baseline": "alphabetic", "fontSize": 28, "color": "black", "font": "DejaVu Serif"},
         "encoding": {"text": {"field": "num"}, "x": {"datum": 0.44, "type": "quantitative", "scale": {"type": "log", "domain": [0.3, 500], "nice": false}, "axis": null}, "y": {"datum": 7600, "type": "quantitative", "scale": {"type": "log", "domain": [0.022, 200000], "nice": false}, "axis": null}}},
        {"transform": [{"filter": "datum.kind == 'label'"}], "mark": {"type": "text", "text": "z", "align": "left", "baseline": "alphabetic", "fontSize": 25, "color": "black", "font": "DejaVu Serif"},
         "encoding": {"x": {"datum": 6.0, "type": "quantitative", "scale": {"type": "log", "domain": [0.3, 500], "nice": false}, "axis": null}, "y": {"datum": 0.105, "type": "quantitative", "scale": {"type": "log", "domain": [0.022, 200000], "nice": false}, "axis": null}}},
        {"transform": [{"filter": "datum.kind == 'label'"}], "mark": {"type": "text", "text": "spec", "align": "left", "baseline": "alphabetic", "fontSize": 18, "dx": 13.5, "dy": 6, "color": "black", "font": "DejaVu Serif"},
         "encoding": {"x": {"datum": 6.0, "type": "quantitative", "scale": {"type": "log", "domain": [0.3, 500], "nice": false}, "axis": null}, "y": {"datum": 0.105, "type": "quantitative", "scale": {"type": "log", "domain": [0.022, 200000], "nice": false}, "axis": null}}},
        {"transform": [{"filter": "datum.kind == 'label'"}], "mark": {"type": "text", "align": "left", "baseline": "alphabetic", "fontSize": 25, "dx": 55, "color": "black", "font": "DejaVu Serif"},
         "encoding": {"text": {"field": "z"}, "x": {"datum": 6.0, "type": "quantitative", "scale": {"type": "log", "domain": [0.3, 500], "nice": false}, "axis": null}, "y": {"datum": 0.105, "type": "quantitative", "scale": {"type": "log", "domain": [0.022, 200000], "nice": false}, "axis": null}}},
        {"transform": [{"filter": "datum.kind == 'det'"}], "mark": {"type": "point", "opacity": 0},
         "encoding": {
          "x": {"field": "wl", "type": "quantitative", "scale": {"type": "log", "domain": [0.3, 500], "nice": false}, "axis": {"orient": "top", "values": [0.4,0.5,0.6,0.7,0.8,0.9,1,2,3,4,5,6,7,8,9,10,20,30,40,50,60,70,80,90,100,200,300,400], "labels": false, "tickSize": {"condition": {"test": "datum.value==1||datum.value==10||datum.value==100", "value": -7}, "value": -3}, "title": null}},
          "y": {"field": "flux", "type": "quantitative", "scale": {"type": "log", "domain": [0.022, 200000], "nice": false}, "axis": {"orient": "right", "values": [0.1,1,10,100,1000,10000,100000], "labels": false, "tickSize": -7, "title": null}}
         }}
      ]
    },
    {
      "width": 369, "height": 201,
      "transform": [{"filter": "datum.panel == 15"}],
      "layer": [
        {"transform": [{"filter": "datum.kind == 'model'"}], "mark": {"type": "line", "color": "#e41e26", "strokeWidth": 1, "clip": true},
         "encoding": {
          "x": {"field": "wl", "type": "quantitative", "scale": {"type": "log", "domain": [0.3, 500], "nice": false}, "axis": {"orient": "bottom", "values": [0.4,0.5,0.6,0.7,0.8,0.9,1,2,3,4,5,6,7,8,9,10,20,30,40,50,60,70,80,90,100,200,300,400], "labels": true, "labelExpr": "datum.value==1 ? '1' : datum.value==10 ? '10' : datum.value==100 ? '100' : ''", "labelPadding": 16, "tickSize": {"condition": {"test": "datum.value==1||datum.value==10||datum.value==100", "value": -7}, "value": -3}, "title": "Observed Wavelength (μm)", "titleFontSize": 29, "titleX": 379, "titleY": 67, "titleAlign": "center", "titleBaseline": "alphabetic"}},
          "y": {"field": "flux", "type": "quantitative", "scale": {"type": "log", "domain": [0.022, 200000], "nice": false}, "axis": {"orient": "left", "values": [0.1,1,10,100,1000,10000,100000], "labels": true, "labelExpr": "'10' + ['⁻¹','⁰','¹','²','³','⁴','⁵'][round(log(datum.value)/LN10)+1]", "labelBaseline": "middle", "labelPadding": 13, "tickSize": -7, "title": null}}
         }},
        {"transform": [{"filter": "datum.kind == 'ul' || datum.kind == 'ulx'"}], "mark": {"type": "point", "shape": "M0,0L0,2M-0.46,1.42L0,2L0.46,1.42", "size": 576, "filled": false, "stroke": "#555555", "strokeWidth": 1, "opacity": 1, "clip": true},
         "encoding": {"x": {"field": "wl", "type": "quantitative", "scale": {"type": "log", "domain": [0.3, 500], "nice": false}, "axis": null}, "y": {"field": "flux", "type": "quantitative", "scale": {"type": "log", "domain": [0.022, 200000], "nice": false}, "axis": null}}},
        {"transform": [{"filter": "datum.kind == 'det' || datum.kind == 'ul'"}], "mark": {"type": "circle", "color": "black", "size": 120, "opacity": 1},
         "encoding": {"x": {"field": "wl", "type": "quantitative", "scale": {"type": "log", "domain": [0.3, 500], "nice": false}, "axis": null}, "y": {"field": "flux", "type": "quantitative", "scale": {"type": "log", "domain": [0.022, 200000], "nice": false}, "axis": null}}},
        {"transform": [{"filter": "datum.kind == 'irac'"}], "mark": {"type": "circle", "color": "#e41e26", "size": 120, "opacity": 1},
         "encoding": {"x": {"field": "wl", "type": "quantitative", "scale": {"type": "log", "domain": [0.3, 500], "nice": false}, "axis": null}, "y": {"field": "flux", "type": "quantitative", "scale": {"type": "log", "domain": [0.022, 200000], "nice": false}, "axis": null}}},
        {"transform": [{"filter": "datum.kind == 'label'"}], "mark": {"type": "text", "align": "left", "baseline": "alphabetic", "fontSize": 28, "color": "black", "font": "DejaVu Serif"},
         "encoding": {"text": {"field": "num"}, "x": {"datum": 0.44, "type": "quantitative", "scale": {"type": "log", "domain": [0.3, 500], "nice": false}, "axis": null}, "y": {"datum": 7600, "type": "quantitative", "scale": {"type": "log", "domain": [0.022, 200000], "nice": false}, "axis": null}}},
        {"transform": [{"filter": "datum.kind == 'label'"}], "mark": {"type": "text", "text": "z", "align": "left", "baseline": "alphabetic", "fontSize": 25, "color": "black", "font": "DejaVu Serif"},
         "encoding": {"x": {"datum": 6.0, "type": "quantitative", "scale": {"type": "log", "domain": [0.3, 500], "nice": false}, "axis": null}, "y": {"datum": 0.105, "type": "quantitative", "scale": {"type": "log", "domain": [0.022, 200000], "nice": false}, "axis": null}}},
        {"transform": [{"filter": "datum.kind == 'label'"}], "mark": {"type": "text", "text": "spec", "align": "left", "baseline": "alphabetic", "fontSize": 18, "dx": 13.5, "dy": 6, "color": "black", "font": "DejaVu Serif"},
         "encoding": {"x": {"datum": 6.0, "type": "quantitative", "scale": {"type": "log", "domain": [0.3, 500], "nice": false}, "axis": null}, "y": {"datum": 0.105, "type": "quantitative", "scale": {"type": "log", "domain": [0.022, 200000], "nice": false}, "axis": null}}},
        {"transform": [{"filter": "datum.kind == 'label'"}], "mark": {"type": "text", "align": "left", "baseline": "alphabetic", "fontSize": 25, "dx": 55, "color": "black", "font": "DejaVu Serif"},
         "encoding": {"text": {"field": "z"}, "x": {"datum": 6.0, "type": "quantitative", "scale": {"type": "log", "domain": [0.3, 500], "nice": false}, "axis": null}, "y": {"datum": 0.105, "type": "quantitative", "scale": {"type": "log", "domain": [0.022, 200000], "nice": false}, "axis": null}}},
        {"transform": [{"filter": "datum.kind == 'det'"}], "mark": {"type": "point", "opacity": 0},
         "encoding": {
          "x": {"field": "wl", "type": "quantitative", "scale": {"type": "log", "domain": [0.3, 500], "nice": false}, "axis": {"orient": "top", "values": [0.4,0.5,0.6,0.7,0.8,0.9,1,2,3,4,5,6,7,8,9,10,20,30,40,50,60,70,80,90,100,200,300,400], "labels": false, "tickSize": {"condition": {"test": "datum.value==1||datum.value==10||datum.value==100", "value": -7}, "value": -3}, "title": null}},
          "y": {"field": "flux", "type": "quantitative", "scale": {"type": "log", "domain": [0.022, 200000], "nice": false}, "axis": {"orient": "right", "values": [0.1,1,10,100,1000,10000,100000], "labels": false, "tickSize": -7, "title": null}}
         }}
      ]
    },
    {
      "width": 369, "height": 201,
      "transform": [{"filter": "datum.panel == 16"}],
      "layer": [
        {"transform": [{"filter": "datum.kind == 'model'"}], "mark": {"type": "line", "color": "#e41e26", "strokeWidth": 1, "clip": true},
         "encoding": {
          "x": {"field": "wl", "type": "quantitative", "scale": {"type": "log", "domain": [0.3, 500], "nice": false}, "axis": {"orient": "bottom", "values": [0.4,0.5,0.6,0.7,0.8,0.9,1,2,3,4,5,6,7,8,9,10,20,30,40,50,60,70,80,90,100,200,300,400], "labels": true, "labelExpr": "datum.value==1 ? '1' : datum.value==10 ? '10' : datum.value==100 ? '100' : ''", "labelPadding": 16, "tickSize": {"condition": {"test": "datum.value==1||datum.value==10||datum.value==100", "value": -7}, "value": -3}, "title": null}},
          "y": {"field": "flux", "type": "quantitative", "scale": {"type": "log", "domain": [0.022, 200000], "nice": false}, "axis": {"orient": "left", "values": [0.1,1,10,100,1000,10000,100000], "labels": false, "tickSize": -7, "title": null}}
         }},
        {"transform": [{"filter": "datum.kind == 'ul' || datum.kind == 'ulx'"}], "mark": {"type": "point", "shape": "M0,0L0,2M-0.46,1.42L0,2L0.46,1.42", "size": 576, "filled": false, "stroke": "#555555", "strokeWidth": 1, "opacity": 1, "clip": true},
         "encoding": {"x": {"field": "wl", "type": "quantitative", "scale": {"type": "log", "domain": [0.3, 500], "nice": false}, "axis": null}, "y": {"field": "flux", "type": "quantitative", "scale": {"type": "log", "domain": [0.022, 200000], "nice": false}, "axis": null}}},
        {"transform": [{"filter": "isValid(datum.hi)"}], "mark": {"type": "rule", "color": "#666666", "strokeWidth": 1, "clip": true},
         "encoding": {"x": {"field": "wl", "type": "quantitative", "scale": {"type": "log", "domain": [0.3, 500], "nice": false}, "axis": null}, "y": {"field": "lo", "type": "quantitative", "scale": {"type": "log", "domain": [0.022, 200000], "nice": false}, "axis": null}, "y2": {"field": "hi"}}},
        {"transform": [{"filter": "isValid(datum.hi)"}], "mark": {"type": "tick", "orient": "horizontal", "color": "#666666", "size": 9, "thickness": 1, "clip": true},
         "encoding": {"x": {"field": "wl", "type": "quantitative", "scale": {"type": "log", "domain": [0.3, 500], "nice": false}, "axis": null}, "y": {"field": "lo", "type": "quantitative", "scale": {"type": "log", "domain": [0.022, 200000], "nice": false}, "axis": null}}},
        {"transform": [{"filter": "datum.kind == 'det' || datum.kind == 'ul'"}], "mark": {"type": "circle", "color": "black", "size": 120, "opacity": 1},
         "encoding": {"x": {"field": "wl", "type": "quantitative", "scale": {"type": "log", "domain": [0.3, 500], "nice": false}, "axis": null}, "y": {"field": "flux", "type": "quantitative", "scale": {"type": "log", "domain": [0.022, 200000], "nice": false}, "axis": null}}},
        {"transform": [{"filter": "datum.kind == 'irac'"}], "mark": {"type": "circle", "color": "#e41e26", "size": 120, "opacity": 1},
         "encoding": {"x": {"field": "wl", "type": "quantitative", "scale": {"type": "log", "domain": [0.3, 500], "nice": false}, "axis": null}, "y": {"field": "flux", "type": "quantitative", "scale": {"type": "log", "domain": [0.022, 200000], "nice": false}, "axis": null}}},
        {"transform": [{"filter": "datum.kind == 'label'"}], "mark": {"type": "text", "align": "left", "baseline": "alphabetic", "fontSize": 28, "color": "black", "font": "DejaVu Serif"},
         "encoding": {"text": {"field": "num"}, "x": {"datum": 0.44, "type": "quantitative", "scale": {"type": "log", "domain": [0.3, 500], "nice": false}, "axis": null}, "y": {"datum": 7600, "type": "quantitative", "scale": {"type": "log", "domain": [0.022, 200000], "nice": false}, "axis": null}}},
        {"transform": [{"filter": "datum.kind == 'label'"}], "mark": {"type": "text", "text": "z", "align": "left", "baseline": "alphabetic", "fontSize": 25, "color": "black", "font": "DejaVu Serif"},
         "encoding": {"x": {"datum": 6.0, "type": "quantitative", "scale": {"type": "log", "domain": [0.3, 500], "nice": false}, "axis": null}, "y": {"datum": 0.105, "type": "quantitative", "scale": {"type": "log", "domain": [0.022, 200000], "nice": false}, "axis": null}}},
        {"transform": [{"filter": "datum.kind == 'label'"}], "mark": {"type": "text", "text": "spec", "align": "left", "baseline": "alphabetic", "fontSize": 18, "dx": 13.5, "dy": 6, "color": "black", "font": "DejaVu Serif"},
         "encoding": {"x": {"datum": 6.0, "type": "quantitative", "scale": {"type": "log", "domain": [0.3, 500], "nice": false}, "axis": null}, "y": {"datum": 0.105, "type": "quantitative", "scale": {"type": "log", "domain": [0.022, 200000], "nice": false}, "axis": null}}},
        {"transform": [{"filter": "datum.kind == 'label'"}], "mark": {"type": "text", "align": "left", "baseline": "alphabetic", "fontSize": 25, "dx": 55, "color": "black", "font": "DejaVu Serif"},
         "encoding": {"text": {"field": "z"}, "x": {"datum": 6.0, "type": "quantitative", "scale": {"type": "log", "domain": [0.3, 500], "nice": false}, "axis": null}, "y": {"datum": 0.105, "type": "quantitative", "scale": {"type": "log", "domain": [0.022, 200000], "nice": false}, "axis": null}}},
        {"transform": [{"filter": "datum.kind == 'det'"}], "mark": {"type": "point", "opacity": 0},
         "encoding": {
          "x": {"field": "wl", "type": "quantitative", "scale": {"type": "log", "domain": [0.3, 500], "nice": false}, "axis": {"orient": "top", "values": [0.4,0.5,0.6,0.7,0.8,0.9,1,2,3,4,5,6,7,8,9,10,20,30,40,50,60,70,80,90,100,200,300,400], "labels": false, "tickSize": {"condition": {"test": "datum.value==1||datum.value==10||datum.value==100", "value": -7}, "value": -3}, "title": null}},
          "y": {"field": "flux", "type": "quantitative", "scale": {"type": "log", "domain": [0.022, 200000], "nice": false}, "axis": {"orient": "right", "values": [0.1,1,10,100,1000,10000,100000], "labels": false, "tickSize": -7, "title": null}}
         }}
      ]
    }
  ]
}
